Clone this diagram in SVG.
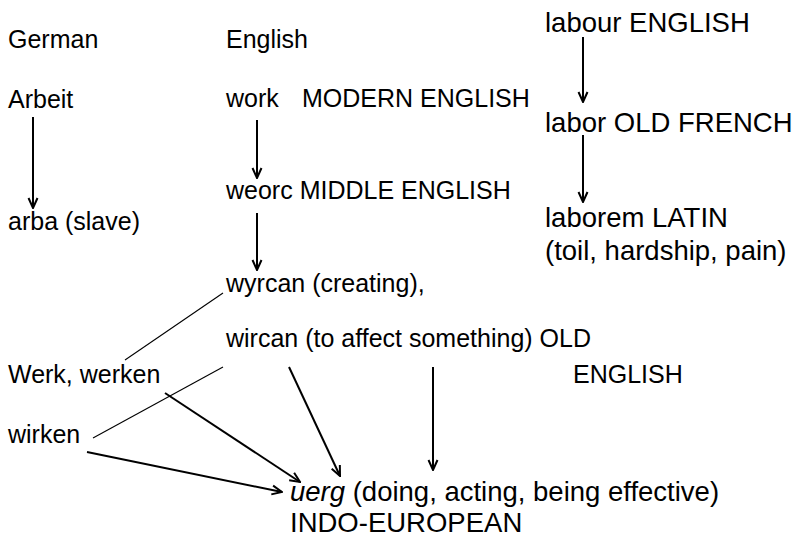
<svg xmlns="http://www.w3.org/2000/svg" width="799" height="538" viewBox="0 0 799 538">
<style>
text{font-family:"Liberation Sans",Arial,sans-serif;font-size:25px;fill:#000}
text.L{font-size:27.5px}
.a{stroke:#000;stroke-width:2;fill:none}
.t{stroke:#000;stroke-width:1.1;fill:none}
</style>
<defs>
<marker id="ah" viewBox="0 0 12 12" refX="11" refY="6" markerWidth="12" markerHeight="12" markerUnits="userSpaceOnUse" orient="auto">
<path d="M1,1.5 L11,6 L1,10.5" fill="none" stroke="#000" stroke-width="2"/>
</marker>
</defs>
<rect width="799" height="538" fill="#fff"/>
<g id="n-german"><text x="8" y="48">German</text></g>
<g id="n-english"><text x="226" y="48">English</text></g>
<g id="n-labour"><text class="L" x="545" y="32">labour ENGLISH</text></g>
<g id="n-arbeit"><text x="8" y="108">Arbeit</text></g>
<g id="n-work"><text x="226" y="107">work</text><text x="302" y="107">MODERN ENGLISH</text></g>
<g id="n-labor"><text class="L" x="545" y="132">labor OLD FRENCH</text></g>
<g id="n-weorc"><text x="226" y="199">weorc MIDDLE ENGLISH</text></g>
<g id="n-arba"><text x="8" y="230">arba (slave)</text></g>
<g id="n-laborem"><text class="L" x="545" y="227">laborem LATIN</text><text class="L" x="545" y="260">(toil, hardship, pain)</text></g>
<g id="n-wyrcan"><text x="226" y="292">wyrcan (creating),</text></g>
<g id="n-wircan"><text x="226" y="347">wircan (to affect something) OLD</text><text x="573" y="383">ENGLISH</text></g>
<g id="n-werk"><text x="8" y="383">Werk, werken</text></g>
<g id="n-wirken"><text x="8" y="443">wirken</text></g>
<g id="n-uerg"><text class="L" x="290" y="501"><tspan font-style="italic">uerg</tspan> (doing, acting, being effective)</text><text class="L" x="290" y="532">INDO-EUROPEAN</text></g>
<g id="connectors">
<line class="a" x1="33" y1="117" x2="33" y2="208" marker-end="url(#ah)"/>
<line class="a" x1="257" y1="120" x2="257" y2="178" marker-end="url(#ah)"/>
<line class="a" x1="257" y1="213" x2="257" y2="270" marker-end="url(#ah)"/>
<line class="a" x1="583" y1="37" x2="583" y2="102" marker-end="url(#ah)"/>
<line class="a" x1="583" y1="135" x2="583" y2="202" marker-end="url(#ah)"/>
<line class="t" x1="223" y1="293" x2="125" y2="360"/>
<line class="t" x1="223" y1="367" x2="93" y2="438"/>
<line class="a" x1="165" y1="393" x2="300" y2="482" marker-end="url(#ah)"/>
<line class="a" x1="87" y1="452" x2="282" y2="492" marker-end="url(#ah)"/>
<line class="a" x1="289" y1="367" x2="340" y2="476" marker-end="url(#ah)"/>
<line class="a" x1="433" y1="367" x2="433" y2="470" marker-end="url(#ah)"/>
</g>
</svg>
